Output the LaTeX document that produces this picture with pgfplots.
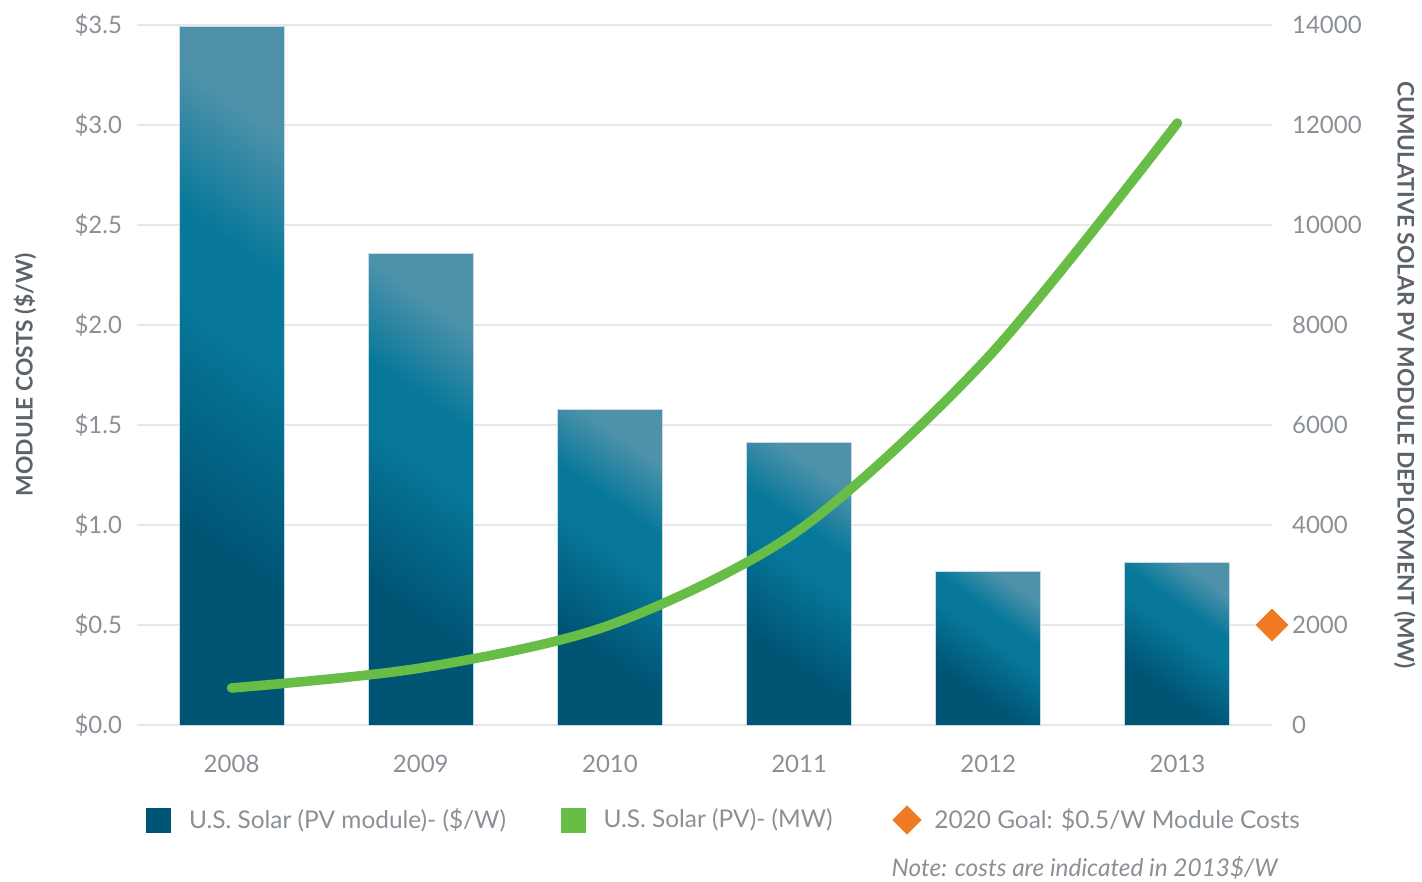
\documentclass[border=0pt]{standalone}
\usepackage{fontspec}
\setmainfont{Lato}
\usepackage{pgfplots}
\pgfplotsset{compat=1.18}

\definecolor{bardark}{HTML}{005575}
\definecolor{barmid}{HTML}{07789A}
\definecolor{barlight}{HTML}{4E92AA}
\definecolor{baredge}{HTML}{C4DCE4}
\definecolor{linegreen}{HTML}{68BD46}
\definecolor{goalorange}{HTML}{F07B22}
\definecolor{gridgrey}{HTML}{E6E7E8}
\definecolor{ticktext}{HTML}{8A9095}
\definecolor{titletext}{HTML}{5C6369}

% bar gradient: dark at the bottom, teal through the upper middle, light only near the top
\pgfdeclareverticalshading{barshade}{100bp}{color(0bp)=(bardark); color(25bp)=(bardark);
  color(34bp)=(bardark); color(54bp)=(barmid); color(62bp)=(barmid);
  color(75bp)=(barlight); color(100bp)=(barlight)}

\pgfplotsset{
  base/.style={
    width=567.5pt, height=350pt, scale only axis,
    at={(0,0)}, anchor=south west,
    xmin=2007.5, xmax=2013.5,
    axis line style={draw=none},
    tick style={draw=none},
    /pgf/number format/assume math mode=true,
    tick label style={font=\fontsize{12}{14}\selectfont, text=ticktext},
    label style={font=\fontsize{11.4}{13}\selectfont\bfseries, text=titletext},
  },
  costbar/.style={ybar, bar width=52.5pt, draw=baredge, line width=0.5pt, forget plot,
    shade, shading=barshade, shading angle=-35},
}

\begin{document}
\begin{tikzpicture}
\begin{axis}[
  base,
  ymin=0, ymax=3.5,
  ytick={0,0.5,1,1.5,2,2.5,3,3.5},
  yticklabel={\$\pgfmathprintnumber[fixed,fixed zerofill,precision=1]{\tick}},
  yticklabel style={xshift=-4pt},
  xtick={2008,2009,2010,2011,2012,2013},
  xticklabels={2008,2009,2010,2011,2012,2013},
  xticklabel style={yshift=-11.5pt},
  ymajorgrids, grid style={gridgrey, line width=0.75pt},
  ylabel={MODULE COSTS (\$/W)},
  ylabel style={at={(axis description cs:-0.0987,0.5)}, anchor=center},
  clip=false,
  legend style={at={(axis description cs:0.0079,-0.1357)}, anchor=west,
    draw=none, fill=none, inner sep=0pt,
    font=\fontsize{12.2}{14}\selectfont, text=ticktext,
    legend columns=3,
    /tikz/column 1/.style={column sep=7pt},
    /tikz/column 2/.style={column sep=25.5pt},
    /tikz/column 3/.style={column sep=7pt},
    /tikz/column 4/.style={column sep=28pt},
    /tikz/column 5/.style={column sep=4.5pt}},
]
% one plot per bar so that each bar gets its own gradient
\addplot[costbar] coordinates {(2008,3.49)};
\addplot[costbar] coordinates {(2009,2.355)};
\addplot[costbar] coordinates {(2010,1.575)};
\addplot[costbar] coordinates {(2011,1.41)};
\addplot[costbar] coordinates {(2012,0.765)};
\addplot[costbar] coordinates {(2013,0.81)};

\addlegendimage{legend image code/.code={\fill[bardark] (0pt,-6pt) rectangle (12pt,6pt);}}
\addlegendentry{U.S. Solar (PV module)- (\$/W)}
\addlegendimage{legend image code/.code={\fill[linegreen] (0pt,-6pt) rectangle (12pt,6pt);}}
\addlegendentry{U.S. Solar (PV)- (MW)}
\addplot[only marks, mark=square*, mark size=5.6pt, mark options={rotate=45, fill=goalorange, draw=goalorange},
  legend image code/.code={\fill[goalorange] (0pt,0pt) -- (7pt,7pt) -- (14pt,0pt) -- (7pt,-7pt) -- cycle;}]
  coordinates {(2013.5,0.5)};
\addlegendentry{2020 Goal: \$0.5/W Module Costs}
\end{axis}

\begin{axis}[
  base,
  ymin=0, ymax=14000,
  ytick={0,2000,4000,6000,8000,10000,12000,14000},
  scaled y ticks=false,
  yticklabel={\pgfmathprintnumber[fixed,1000 sep={}]{\tick}},
  yticklabel pos=right,
  yticklabel style={xshift=6.5pt},
  xtick=\empty,
  ylabel={CUMULATIVE SOLAR PV MODULE DEPLOYMENT (MW)},
  ylabel style={at={(axis description cs:1.117,0.5)}, anchor=center, rotate=180},
]
\addplot[linegreen, line width=4.8pt, line cap=round, smooth, mark=none]
  coordinates {(2008,740) (2009,1140) (2010,2000) (2011,3900) (2012,7360) (2013,12040)};
\end{axis}

\node[anchor=east, font=\fontsize{12.2}{14}\selectfont\itshape, text=ticktext, inner sep=0pt]
  at (570.5pt,-71.5pt) {Note: costs are indicated in 2013\$/W};

\pgfresetboundingbox
\useasboundingbox (-68.5pt,-78.5pt) rectangle (642.5pt,362.5pt);
\end{tikzpicture}
\end{document}
